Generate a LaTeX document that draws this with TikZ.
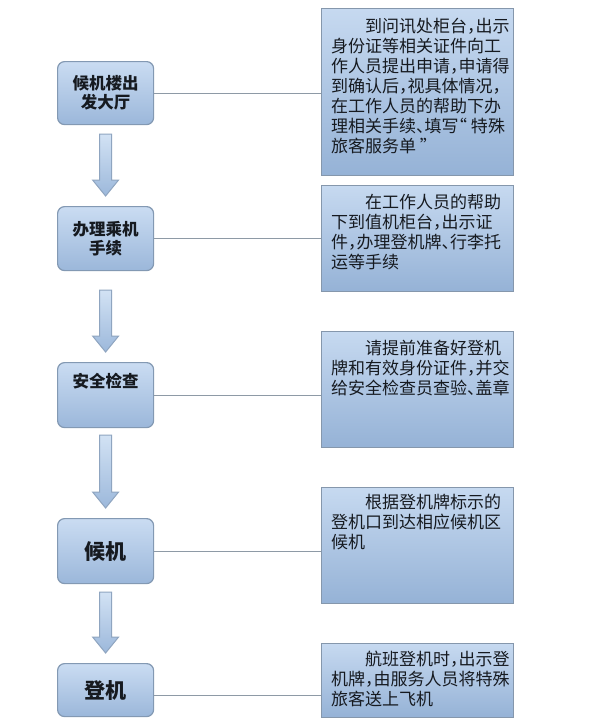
\documentclass[tikz,border=0pt]{standalone}
\usepackage{fontspec}
\setmainfont{Noto Sans CJK SC}
\newfontfamily\notefont[RawFeature=+halt]{Noto Sans CJK SC}
\usetikzlibrary{calc}
\definecolor{stagetop}{HTML}{CADCF2}
\definecolor{stagebot}{HTML}{9BB7DA}
\definecolor{stageline}{HTML}{8399B3}
\definecolor{notetop}{HTML}{C6D9F0}
\definecolor{notebot}{HTML}{95B2D6}
\definecolor{noteline}{HTML}{8597AC}
\definecolor{arrowtop}{HTML}{D2E2F4}
\definecolor{arrowbot}{HTML}{9CB8DB}
\definecolor{arrowline}{HTML}{8FA5C0}
\definecolor{linkgray}{HTML}{8E9AA6}
\definecolor{txt}{HTML}{161A20}
\newcommand\flowarrow[3]{%
  \draw[blockarrow] let \p1=(#1.south), \p2=(#2.north) in
  (\x1-6pt,\y1-#3) -- (\x1+6pt,\y1-#3) -- (\x1+6pt,\y2+26pt) -- (\x1+13pt,\y2+26pt)
  -- (\x1,\y2+10pt) -- (\x1-13pt,\y2+26pt) -- (\x1-6pt,\y2+26pt) -- cycle;}
\begin{document}
\begin{tikzpicture}[x=1pt,y=-1pt,
  stage/.style={draw=stageline, line width=1.2pt, rounded corners=7pt,
    top color=stagetop, bottom color=stagebot, minimum width=96pt,
    anchor=north west, inner sep=0pt, align=center, text=txt,
    font=\bfseries\fontsize{16.5}{19}\selectfont},
  stagebig/.style={stage, font=\bfseries\fontsize{21}{24}\selectfont},
  stagetext/.style={inner sep=0pt, text=txt, font=\bfseries\fontsize{16.5}{19}\selectfont},
  note/.style={draw=noteline, line width=1.4pt, top color=notetop, bottom color=notebot,
    minimum width=192pt, anchor=north west, inner sep=0pt},
  notetext/.style={anchor=north west, inner sep=0pt, align=left, text=txt,
    font=\notefont\fontsize{17}{20}\selectfont},
  blockarrow/.style={draw=arrowline, line width=1pt, top color=arrowtop, bottom color=arrowbot, line join=miter},
  link/.style={draw=linkgray, line width=1.2pt}
]
\useasboundingbox (0,0) rectangle (592,724);
\fill[white] (0,0) rectangle (592,724);

% left stages
\node[stage, minimum height=63pt] (l1) at (57,61) {候机楼出\\发大厅};
\node[stage, minimum height=64pt] (l2) at (57,206) {办理乘机\\手续};
\node[stage, minimum height=65pt] (l3) at (57,362) {};
\node[stagetext] (t3) at ($(l3.north)+(0,19)$) {安全检查};
\node[stagebig, minimum height=65pt] (l4) at (57,518) {候机};
\node[stagebig, minimum height=53pt] (l5) at (57,663) {登机};

% right notes
\node[note, minimum height=167pt] (r1) at (321,8) {};
\node[notetext] (n1) at ($(r1.north west)+(10,10)$)
  {\hspace*{2em}到问讯处柜台，出示\\身份证等相关证件向工\\作人员提出申请，申请得\\到确认后，视具体情况，\\在工作人员的帮助下办\\理相关手续、填写“ 特殊\\旅客服务单 ”};
\node[note, minimum height=106pt] (r2) at (321,185) {};
\node[notetext] (n2) at ($(r2.north west)+(10,9)$)
  {\hspace*{2em}在工作人员的帮助\\下到值机柜台，出示证\\件，办理登机牌、行李托\\运等手续};
\node[note, minimum height=116pt] (r3) at (321,331) {};
\node[notetext] (n3) at ($(r3.north west)+(10,9)$)
  {\hspace*{2em}请提前准备好登机\\牌和有效身份证件，并交\\给安全检查员查验、盖章};
\node[note, minimum height=116pt] (r4) at (321,487) {};
\node[notetext] (n4) at ($(r4.north west)+(10,7)$)
  {\hspace*{2em}根据登机牌标示的\\登机口到达相应候机区\\候机};
\node[note, minimum height=74pt] (r5) at (321,643) {};
\node[notetext] (n5) at ($(r5.north west)+(10,8)$)
  {\hspace*{2em}航班登机时，出示登\\机牌，由服务人员将特殊\\旅客送上飞机};

% connectors
\draw[link] (l1.east) -- (l1.east -| r1.west);
\draw[link] (l2.east) -- (l2.east -| r2.west);
\draw[link] (l3.east) -- (l3.east -| r3.west);
\draw[link] (l4.east) -- (l4.east -| r4.west);
\coordinate (c5) at ($(l5.east)+(0,5)$);
\draw[link] (c5) -- (c5 -| r5.west);

% block arrows
\flowarrow{l1}{l2}{9pt}
\flowarrow{l2}{l3}{19pt}
\flowarrow{l3}{l4}{7pt}
\flowarrow{l4}{l5}{8pt}
\end{tikzpicture}
\end{document}
